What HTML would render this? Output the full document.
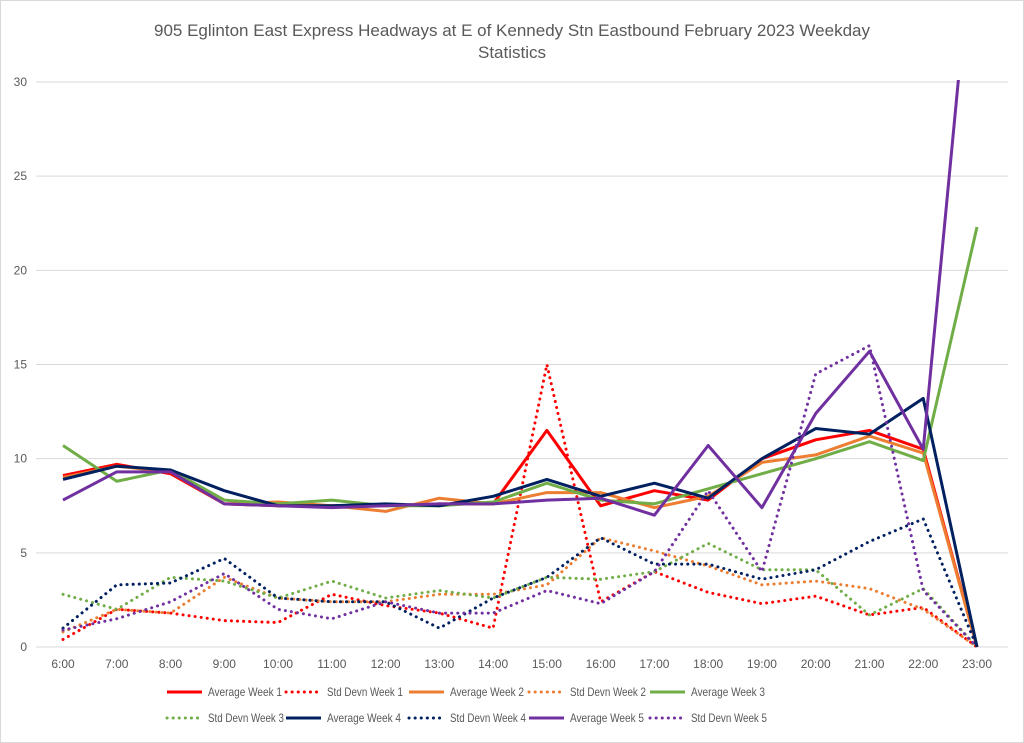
<!DOCTYPE html>
<html><head><meta charset="utf-8"><style>
body{margin:0;background:#fff;font-family:"Liberation Sans",sans-serif}
svg{display:block}
</style></head><body>
<svg width="1024" height="743" viewBox="0 0 1024 743">
<rect x="0.5" y="0.5" width="1023" height="742" fill="#fff" stroke="#d9d9d9"/>
<text x="512" y="36" text-anchor="middle" font-size="17" fill="#595959">905 Eglinton East Express Headways at E of Kennedy Stn Eastbound February 2023 Weekday</text>
<text x="512" y="58" text-anchor="middle" font-size="17" fill="#595959">Statistics</text>
<defs><clipPath id="pc"><rect x="30" y="80" width="990" height="570"/></clipPath></defs>
<g id="grid"></g><g id="xl"></g><g id="series" clip-path="url(#pc)"></g><g id="legend"></g>
</svg>
<script>
const categories=["6:00","7:00","8:00","9:00","10:00","11:00","12:00","13:00","14:00","15:00","16:00","17:00","18:00","19:00","20:00","21:00","22:00","23:00"];
const yTicks=[0,5,10,15,20,25,30];
const avgW1=[9.1,9.7,9.2,7.6,7.5,7.5,7.5,7.6,7.6,11.5,7.5,8.3,7.8,10.0,11.0,11.5,10.5,0];
const stdW1=[0.4,2.0,1.8,1.4,1.3,2.8,2.2,1.8,1.0,15.0,2.4,4.0,2.9,2.3,2.7,1.7,2.1,0];
const avgW2=[9.0,9.6,9.3,7.6,7.7,7.5,7.2,7.9,7.6,8.2,8.2,7.4,8.0,9.8,10.2,11.2,10.3,0];
const stdW2=[0.8,2.0,1.8,3.7,2.6,2.4,2.4,2.8,2.8,3.3,5.8,5.1,4.3,3.3,3.5,3.1,2.0,0];
const avgW3=[10.7,8.8,9.4,7.8,7.6,7.8,7.5,7.5,7.7,8.7,7.8,7.6,8.4,9.2,10.0,10.9,9.9,22.3];
const stdW3=[2.8,2.0,3.7,3.5,2.6,3.5,2.6,3.0,2.6,3.7,3.6,4.0,5.5,4.1,4.1,1.7,3.1,0];
const avgW4=[8.9,9.6,9.4,8.3,7.5,7.5,7.6,7.5,8.0,8.9,8.0,8.7,7.9,10.0,11.6,11.3,13.2,0];
const stdW4=[1.0,3.3,3.4,4.7,2.6,2.4,2.4,1.0,2.6,3.7,5.8,4.4,4.4,3.6,4.1,5.6,6.8,0];
const avgW5=[7.8,9.3,9.3,7.6,7.5,7.4,7.5,7.6,7.6,7.8,7.9,7.0,10.7,7.4,12.4,15.7,10.5,40.5];
const stdW5=[0.9,1.5,2.4,3.9,2.0,1.5,2.4,1.8,1.8,3.0,2.3,4.0,8.3,4.0,14.5,16.0,3.0,0];
const NS="http://www.w3.org/2000/svg";
const X0=63,X1=977,Y0=647,Y30=82;
const xs=i=>X0+i*(X1-X0)/(categories.length-1);
const ys=v=>Y0-v*(Y0-Y30)/30;
function mk(tag,attrs,parent){const e=document.createElementNS(NS,tag);for(const k in attrs)e.setAttribute(k,attrs[k]);parent.appendChild(e);return e;}
const grid=document.getElementById('grid');
yTicks.forEach(t=>{
 const l=mk('line',{x1:36,x2:1008,y1:ys(t),y2:ys(t),stroke:'#d9d9d9','stroke-width':1},grid);
 
 
 const tx=mk('text',{x:27,y:ys(t)+4,'text-anchor':'end','font-size':12,fill:'#595959'},grid);
 tx.textContent=t;
 
 
});
const xl=document.getElementById('xl');
categories.forEach((c,i)=>{
 const tx=mk('text',{x:xs(i),y:668,'text-anchor':'middle','font-size':12,fill:'#595959'},xl);
 tx.textContent=c;
 
 
});
const series=[
 ["Average Week 1",avgW1,'#ff0000',false],["Std Devn Week 1",stdW1,'#ff0000',true],
 ["Average Week 2",avgW2,'#ed7d31',false],["Std Devn Week 2",stdW2,'#ed7d31',true],
 ["Average Week 3",avgW3,'#70ad47',false],["Std Devn Week 3",stdW3,'#70ad47',true],
 ["Average Week 4",avgW4,'#002060',false],["Std Devn Week 4",stdW4,'#002060',true],
 ["Average Week 5",avgW5,'#7030a0',false],["Std Devn Week 5",stdW5,'#7030a0',true]];
const sg=document.getElementById('series');
series.forEach(([name,vals,col,dot])=>{
 const p=mk('polyline',{points:vals.map((v,i)=>xs(i)+','+ys(v)).join(' '),fill:'none',stroke:col,'stroke-width':3,'stroke-linejoin':'round','stroke-linecap':dot?'round':'butt'},sg);
 if(dot)p.setAttribute('stroke-dasharray','0.1 6');
 
 
});
const lg=document.getElementById('legend');
const lx=[165,284,407,527,648];
series.forEach(([name,vals,col,dot],k)=>{
 const row=Math.floor(k/5),x=lx[k%5],y=692+row*26;
 const g=mk('g',{},lg);
 
 
 const l=mk('line',{x1:x+2,x2:x+37,y1:y,y2:y,stroke:col,'stroke-width':3,'stroke-linecap':dot?'round':'butt'},g);
 if(dot)l.setAttribute('stroke-dasharray','0.1 6');
 const t=mk('text',{x:x+43,y:y+4,'font-size':12,fill:'#595959',textLength:dot?76:74,lengthAdjust:'spacingAndGlyphs'},g);
 t.textContent=name;
});
</script>
</body></html>
